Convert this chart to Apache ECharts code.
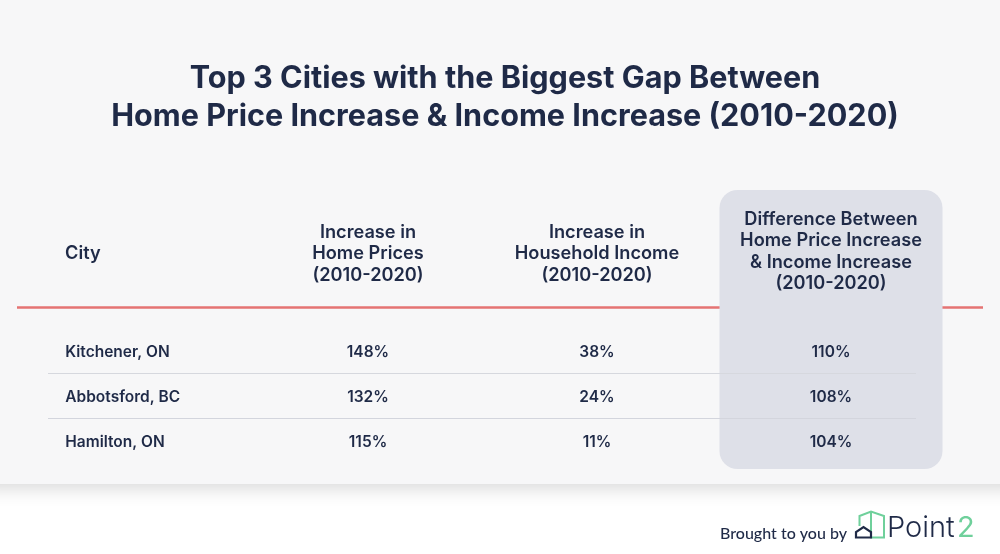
<!DOCTYPE html>
<html>
<head>
<meta charset="utf-8">
<style>html,body{margin:0;padding:0;background:#fff}#main{width:1000px;height:554px}</style>
<script src="https://cdn.jsdelivr.net/npm/echarts@6/dist/echarts.min.js"></script>
</head>
<body>
<div id="main"></div>
<script>
const titleLines = ['Top 3 Cities with the Biggest Gap Between', 'Home Price Increase & Income Increase (2010-2020)'];
const columns = ['City', 'Increase in\nHome Prices\n(2010-2020)', 'Increase in\nHousehold Income\n(2010-2020)', 'Difference Between\nHome Price Increase\n& Income Increase\n(2010-2020)'];
const cities = ['Kitchener, ON', 'Abbotsford, BC', 'Hamilton, ON'];
const homePrices = [148, 132, 115];
const incomes = [38, 24, 11];
const differences = [110, 108, 104];

const navy = '#1f2a47';
const green = '#6fd09b';
const font = 'Inter';
const headX = [65, 368, 597, 831];

var myChart = echarts.init(document.getElementById('main'));

function cellSeries(col, values, shift) {
  return {
    type: 'scatter',
    symbolSize: 0,
    z: 5,
    silent: true,
    itemStyle: { opacity: 1 },
    data: values.map((v, i) => [col, i, v]),
    label: {
      show: true,
      position: 'inside',
      offset: [shift, 0],
      formatter: p => p.value[2] + '%',
      color: navy,
      fontFamily: font,
      fontWeight: 600,
      fontSize: 15.5
    }
  };
}

var option = {
  animation: false,
  backgroundColor: '#fff',
  title: {
    text: titleLines.join('\n'),
    left: 500,
    top: 55,
    textAlign: 'center',
    textStyle: { color: navy, fontFamily: font, fontWeight: 700, fontSize: 30.6, lineHeight: 38 }
  },
  grid: { left: 20.75, width: 926, top: 329.7, height: 135 },
  xAxis: { type: 'category', show: false, data: columns },
  yAxis: { type: 'category', show: false, inverse: true, data: cities },
  graphic: [
    // panel
    { type: 'rect', z: -5, shape: { x: -20, y: -20, width: 1040, height: 504 },
      style: { fill: '#f7f7f8', shadowBlur: 18, shadowColor: 'rgba(0,0,0,0.16)', shadowOffsetY: 4 } },
    // red rule
    { type: 'line', z: 1, shape: { x1: 17, y1: 307.5, x2: 983, y2: 307.5 }, style: { stroke: '#e57373', lineWidth: 2.5 } },
    // highlighted column
    { type: 'rect', z: 2, shape: { x: 719.5, y: 190, width: 223, height: 279, r: 18 }, style: { fill: '#dee0e8' } },
    // row rules
    { type: 'line', z: 3, shape: { x1: 48, y1: 373.5, x2: 916, y2: 373.5 }, style: { stroke: '#d6d8de', lineWidth: 1 } },
    { type: 'line', z: 3, shape: { x1: 48, y1: 418.5, x2: 916, y2: 418.5 }, style: { stroke: '#d3d5dd', lineWidth: 1 } },
    // header cells
    ...columns.map((c, i) => ({
      type: 'text', z: 6, x: headX[i], y: i === 3 ? 251.5 : 254,
      style: { text: c, fill: navy, font: '600 18.2px ' + font, lineHeight: 21.4, align: i === 0 ? 'left' : 'center', verticalAlign: 'middle' }
    })),
    // footer
    { type: 'text', z: 6, x: 847, y: 534, style: { text: 'Brought to you by', fill: navy, font: '500 16px Lato', align: 'right', verticalAlign: 'middle' } },
    // logo
    { type: 'polyline', z: 6, shape: { points: [[859.5, 526], [859.5, 516], [871, 511.5], [884, 516], [884, 537.5], [871, 537.5], [871, 512]] },
      style: { fill: 'none', stroke: green, lineWidth: 2 } },
    { type: 'polygon', z: 7, shape: { points: [[856, 537.5], [856, 532], [863.5, 527], [871, 532], [871, 537.5]] },
      style: { fill: '#ffffff', stroke: navy, lineWidth: 2.2 } },
    { type: 'text', z: 6, x: 887, y: 528.5, style: { text: 'Point', fill: navy, font: '300 29px Inter', verticalAlign: 'middle' } },
    { type: 'text', z: 6, x: 957, y: 528.5, style: { text: '2', fill: green, font: '400 29px Inter', verticalAlign: 'middle' } }
  ],
  series: [
    {
      type: 'scatter', symbolSize: 0, z: 5, silent: true,
      itemStyle: { opacity: 1 },
      data: cities.map((c, i) => [0, i, c]),
      label: {
        show: true, position: 'inside', align: 'left', offset: [-71.25, 0],
        formatter: p => p.value[2], color: navy, fontFamily: font, fontWeight: 600, fontSize: 15.5
      }
    },
    cellSeries(1, homePrices, 0),
    cellSeries(2, incomes, -2.5),
    cellSeries(3, differences, 0)
  ]
};

option && myChart.setOption(option);
</script>
</body>
</html>
